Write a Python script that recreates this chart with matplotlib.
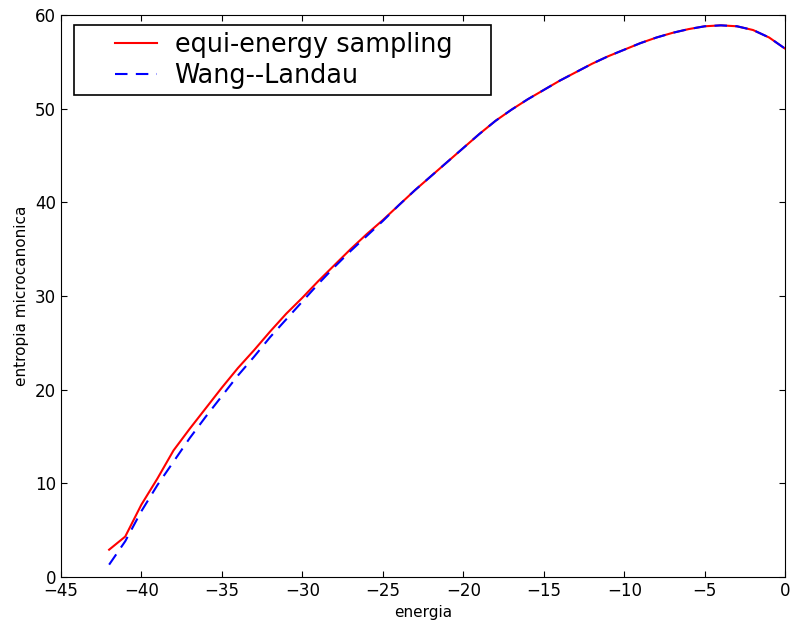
import matplotlib
matplotlib.use('Agg')
import matplotlib.pyplot as plt
from matplotlib.legend_handler import HandlerLine2D
import numpy as np

# energia (x) e entropia microcanonica (y)
energia = list(range(-42, 1))

entropia_ee = [2.9, 4.3, 7.7, 10.5, 13.5, 15.8, 18.0, 20.2, 22.3, 24.2,
               26.2, 28.1, 29.8, 31.6, 33.3, 35.0, 36.6, 38.1, 39.7, 41.3,
               42.8, 44.3, 45.8, 47.3, 48.7, 49.9, 51.0, 52.0, 53.0, 53.9,
               54.8, 55.6, 56.3, 57.0, 57.6, 58.1, 58.5, 58.8, 58.9, 58.8,
               58.4, 57.6, 56.4]

entropia_wl = [1.3, 3.8, 7.0, 9.8, 12.3, 14.8, 17.1, 19.3, 21.5, 23.5,
               25.6, 27.5, 29.4, 31.3, 33.1, 34.8, 36.4, 38.0, 39.7, 41.3,
               42.8, 44.3, 45.8, 47.3, 48.7, 49.9, 51.0, 52.0, 53.0, 53.9,
               54.8, 55.6, 56.3, 57.0, 57.6, 58.1, 58.5, 58.8, 58.9, 58.8,
               58.4, 57.6, 56.4]

plt.rcParams['xtick.direction'] = 'in'
plt.rcParams['ytick.direction'] = 'in'
plt.rcParams['xtick.top'] = True
plt.rcParams['ytick.right'] = True
plt.rcParams['xtick.major.size'] = 4
plt.rcParams['ytick.major.size'] = 4

fig = plt.figure(figsize=(7.9, 6.27), dpi=100)
ax = fig.add_axes([0.077, 0.080, 0.917, 0.896])

l1, = ax.plot(energia, entropia_ee, color='red', lw=1.5, label='equi-energy sampling')
l2, = ax.plot(energia, entropia_wl, color='blue', lw=1.5, ls='--', dashes=(6, 4),
              label='Wang--Landau')

ax.set_xlim(-45, 0)
ax.set_ylim(0, 60)
ax.set_xticks(np.arange(-45, 1, 5))
ax.set_yticks(np.arange(0, 61, 10))
ax.tick_params(labelsize=12)
ax.set_xlabel('energia', fontsize=11)
ax.set_ylabel('entropia microcanonica', fontsize=11)

# legenda larga, stile vecchio matplotlib
hm = {l1: HandlerLine2D(marker_pad=1.35, numpoints=2),
      l2: HandlerLine2D(marker_pad=1.35, numpoints=2)}
leg = ax.legend(loc='upper left', bbox_to_anchor=(0.018, 0.5, 0.576, 0.482),
                mode='expand', fontsize=18.4, fancybox=False, framealpha=1,
                edgecolor='black', borderaxespad=0, borderpad=0.25,
                handlelength=4.34, handletextpad=-0.65, labelspacing=0.2,
                handler_map=hm)
leg.get_frame().set_linewidth(1.2)

fig.savefig('out.png', dpi=100)
